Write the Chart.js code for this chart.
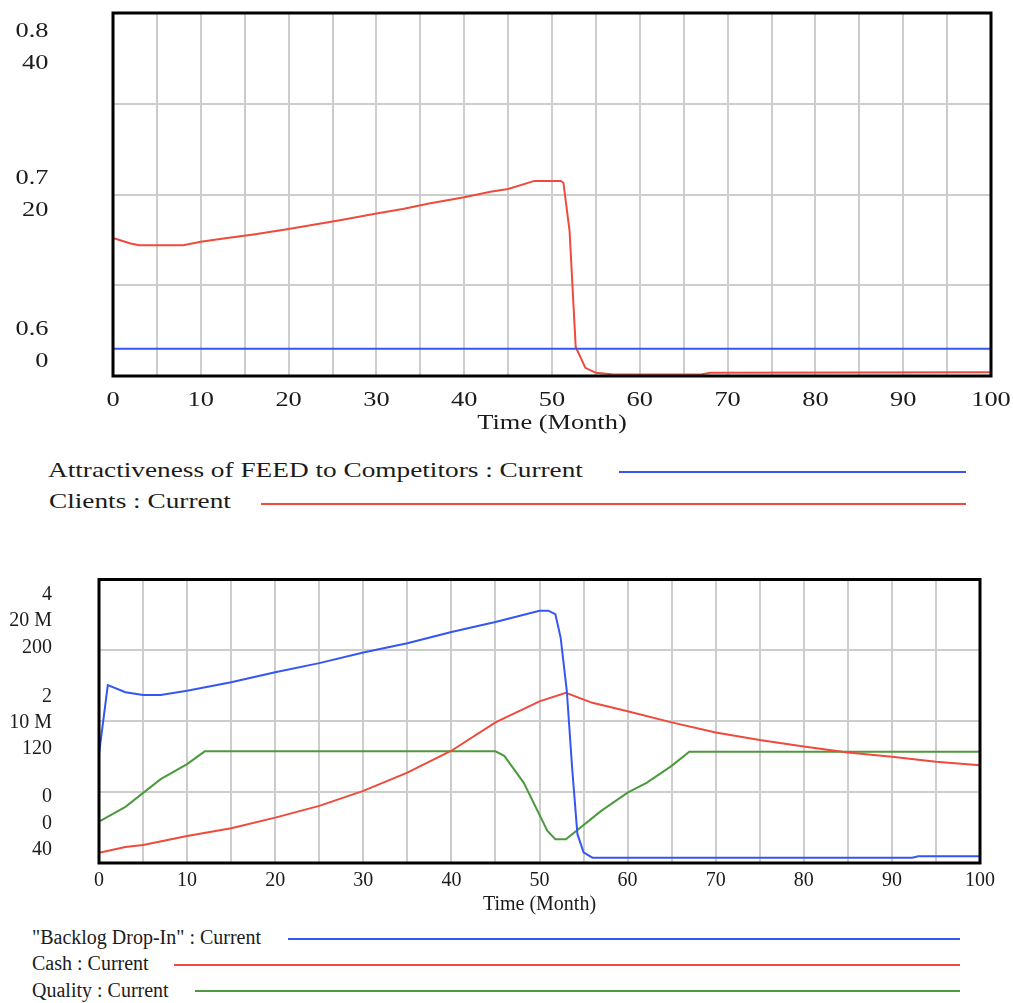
<!DOCTYPE html>
<html>
<head>
<meta charset="utf-8">
<title>FEED model - Current run</title>
<script src="https://cdn.jsdelivr.net/npm/chart.js@4.4.1/dist/chart.umd.min.js"></script>
<style>
  html, body { margin: 0; padding: 0; background: #fff; }
  body { width: 1013px; height: 1003px; position: relative; overflow: hidden; font-family: "Liberation Serif", "Times New Roman", serif; color: #1b1b1b; }
  .box { position: absolute; left: 0; width: 1013px; }
  .box canvas { display: block; }
  .key { position: absolute; white-space: nowrap; line-height: 1; transform-origin: 0 0; }
  .swatch { position: absolute; height: 2px; }
</style>
</head>
<body>
<div class="box" style="top:0;height:440px"><canvas id="top-chart" width="1013" height="440"></canvas></div>
<div class="box" style="top:560px;height:360px"><canvas id="bottom-chart" width="1013" height="360"></canvas></div>
<div id="top-legend"></div>
<div id="bottom-legend"></div>
<script>
// ---- data ----
const monthTicks = [0, 10, 20, 30, 40, 50, 60, 70, 80, 90, 100];

// top chart
const attractMonths = [0, 100];
const attractValues = [0.615, 0.615];
const clientsMonths = [0, 1, 2, 3, 8, 10, 13, 16, 20, 23, 26, 30, 33, 36, 40, 43, 45, 48, 51, 51.3, 52, 52.7, 53.8, 55, 57, 67, 68, 100];
const clientsValues = [15.2, 14.9, 14.6, 14.4, 14.4, 14.8, 15.2, 15.6, 16.2, 16.7, 17.2, 17.9, 18.4, 19.0, 19.7, 20.3, 20.6, 21.5, 21.5, 21.3, 16.0, 3.2, 0.9, 0.35, 0.17, 0.17, 0.35, 0.4];
const attractTicks = ['0.6', '0.7', '0.8'];
const clientsTicks = ['0', '20', '40'];

// bottom chart
const backlogMonths = [0, 1, 3, 5, 7, 10, 15, 20, 25, 30, 35, 40, 45, 50, 51, 51.8, 52.4, 53.1, 53.7, 54.3, 55, 56, 92.3, 93, 100];
const backlogValues = [1.54, 2.51, 2.41, 2.37, 2.37, 2.43, 2.55, 2.69, 2.82, 2.97, 3.10, 3.26, 3.40, 3.56, 3.56, 3.51, 3.18, 2.43, 1.35, 0.41, 0.15, 0.075, 0.075, 0.095, 0.095];
const cashMonths = [0, 3, 5, 10, 15, 20, 25, 30, 35, 40, 45, 50, 53, 56, 60, 65, 70, 75, 80, 85, 90, 95, 100];
const cashMillions = [0.73, 1.13, 1.27, 1.91, 2.45, 3.2, 4.03, 5.09, 6.38, 7.92, 9.92, 11.4, 12.0, 11.3, 10.7, 9.92, 9.2, 8.67, 8.22, 7.8, 7.49, 7.14, 6.9];
const qualityMonths = [0, 3, 7, 10, 12, 45, 46, 48.2, 50.9, 51.8, 53, 57, 60, 62.2, 65, 67, 100];
const qualityValues = [63.4, 71.7, 87.3, 95.8, 103, 103, 100.5, 85.4, 58.1, 53.4, 53.4, 69.4, 79.7, 85.4, 94.8, 102.8, 102.8];
const backlogTicks = ['0', '2', '4'];
const cashTicks = ['0', '10 M', '20 M'];
const qualityTicks = ['40', '120', '200'];

// ---- styling ----
const BLUE = '#3656f2';
const RED = '#ef4a3c';
const GREEN = '#4c9a3e';
const GRID = '#cdcdcd';
const INK = '#1b1b1b';

const pts = (xs, ys) => xs.map((x, i) => ({ x: x, y: ys[i] }));

function stretchedText(ctx, s, x, y, align, sx) {
    ctx.save();
    ctx.translate(x, y);
    ctx.scale(sx, 1);
    ctx.textAlign = align;
    ctx.textBaseline = 'alphabetic';
    ctx.fillText(s, 0, 0);
    ctx.restore();
}

// frame, month labels, axis title and the stacked Vensim-style value labels
const frameAndLabels = {
    id: 'frameAndLabels',
    afterDraw(chart, args, o) {
        const ctx = chart.ctx;
        const a = chart.chartArea;
        const xs = chart.scales.x;
        const ys = chart.scales[o.yScale];
        ctx.save();
        ctx.strokeStyle = '#000';
        ctx.lineWidth = 3;
        ctx.strokeRect(a.left, a.top, a.right - a.left, a.bottom - a.top);

        ctx.fillStyle = INK;
        ctx.font = o.size + 'px "Liberation Serif"';
        monthTicks.forEach(v => stretchedText(ctx, String(v), xs.getPixelForValue(v), o.xTickBase, 'center', o.stretch));
        stretchedText(ctx, 'Time (Month)', (a.left + a.right) / 2, o.titleBase, 'center', o.stretch);

        const n = o.groups.length;
        o.groups.forEach((lines, i) => {
            const py = ys.getPixelForValue(o.values[i]);
            const span = (lines.length - 1) * o.gap;
            let first;
            if (i === n - 1) first = py + o.topPad;
            else if (i === 0) first = py - o.bottomPad - span;
            else first = py + o.digitH / 2 - span / 2 + o.midShift;
            lines.forEach((t, j) => stretchedText(ctx, t, o.yRight, first + j * o.gap, 'right', o.stretch));
        });
        ctx.restore();
    }
};

function xAxis(height) {
    return {
        type: 'linear', min: 0, max: 100,
        ticks: { display: false, stepSize: 5 },
        grid: { color: GRID, lineWidth: 2, drawTicks: false },
        border: { display: false },
        afterFit: s => { s.height = height; }
    };
}

// ---- top chart ----
const topChart = new Chart(document.getElementById('top-chart'), {
    type: 'line',
    data: {
        datasets: [
            { label: 'Attractiveness of FEED to Competitors : Current', data: pts(attractMonths, attractValues), yAxisID: 'yA', borderColor: BLUE },
            { label: 'Clients : Current', data: pts(clientsMonths, clientsValues), yAxisID: 'y', borderColor: RED }
        ]
    },
    options: {
        responsive: false,
        animation: false,
        layout: { padding: { top: 13, right: 22, left: 0, bottom: 0 } },
        elements: { line: { borderWidth: 2, tension: 0 }, point: { radius: 0 } },
        plugins: {
            legend: { display: false },
            tooltip: { enabled: false },
            frameAndLabels: {
                yScale: 'y', size: 22, stretch: 1.2,
                xTickBase: 406, titleBase: 428.5, yRight: 48.5,
                gap: 32, topPad: 24, bottomPad: 9.5, digitH: 15, midShift: -2,
                values: [0, 20, 40],
                groups: attractTicks.map((t, i) => [t, clientsTicks[i]])
            }
        },
        scales: {
            x: xAxis(64),
            y: {
                position: 'left', min: 0, max: 40,
                ticks: { display: false, stepSize: 10 },
                grid: { color: GRID, lineWidth: 2, drawTicks: false },
                border: { display: false },
                afterFit: s => { s.width = 113; }
            },
            yA: { display: false, min: 0.6, max: 0.8 }
        }
    },
    plugins: [frameAndLabels]
});

// ---- bottom chart ----
const bottomChart = new Chart(document.getElementById('bottom-chart'), {
    type: 'line',
    data: {
        datasets: [
            { label: '"Backlog Drop-In" : Current', data: pts(backlogMonths, backlogValues), yAxisID: 'y', borderColor: BLUE },
            { label: 'Cash : Current', data: pts(cashMonths, cashMillions), yAxisID: 'yCash', borderColor: RED },
            { label: 'Quality : Current', data: pts(qualityMonths, qualityValues), yAxisID: 'yQuality', borderColor: GREEN }
        ]
    },
    options: {
        responsive: false,
        animation: false,
        layout: { padding: { top: 19.5, right: 33, left: 0, bottom: 0 } },
        elements: { line: { borderWidth: 2, tension: 0 }, point: { radius: 0 } },
        plugins: {
            legend: { display: false },
            tooltip: { enabled: false },
            frameAndLabels: {
                yScale: 'y', size: 20, stretch: 1,
                xTickBase: 325.7, titleBase: 350, yRight: 52,
                gap: 26.3, topPad: 20.5, bottomPad: 8, digitH: 13.3, midShift: 0,
                values: [0, 2, 4],
                groups: backlogTicks.map((t, i) => [t, cashTicks[i], qualityTicks[i]])
            }
        },
        scales: {
            x: xAxis(57),
            y: {
                position: 'left', min: 0, max: 4,
                ticks: { display: false, stepSize: 1 },
                grid: { color: GRID, lineWidth: 2, drawTicks: false },
                border: { display: false },
                afterFit: s => { s.width = 99; }
            },
            yCash: { display: false, min: 0, max: 20 },
            yQuality: { display: false, min: 40, max: 200 }
        }
    },
    plugins: [frameAndLabels]
});

// ---- legends (text, then a line sample running to the right) ----
function buildLegend(el, chart, rows, size, stretch) {
    const baseOffset = size === 22 ? 18.4 : 16.75;
    chart.data.datasets.forEach((ds, i) => {
        const r = rows[i];
        const t = document.createElement('div');
        t.className = 'key';
        t.textContent = ds.label;
        t.style.fontSize = size + 'px';
        t.style.left = r.textX + 'px';
        t.style.top = (r.baseline - baseOffset) + 'px';
        t.style.transform = 'scaleX(' + stretch + ')';
        el.appendChild(t);
        const s = document.createElement('div');
        s.className = 'swatch';
        s.style.background = ds.borderColor;
        s.style.left = r.x1 + 'px';
        s.style.width = (r.x2 - r.x1) + 'px';
        s.style.top = (r.lineY - 1) + 'px';
        el.appendChild(s);
    });
}

buildLegend(document.getElementById('top-legend'), topChart, [
    { textX: 48, baseline: 477, x1: 619, x2: 966, lineY: 472 },
    { textX: 49, baseline: 508.5, x1: 261, x2: 966, lineY: 503.5 }
], 22, 1.24);

buildLegend(document.getElementById('bottom-legend'), bottomChart, [
    { textX: 32, baseline: 943.5, x1: 288, x2: 960, lineY: 939 },
    { textX: 32, baseline: 970, x1: 174, x2: 960, lineY: 964.5 },
    { textX: 32, baseline: 996.5, x1: 195, x2: 960, lineY: 990.5 }
], 20, 1);
</script>
</body>
</html>
